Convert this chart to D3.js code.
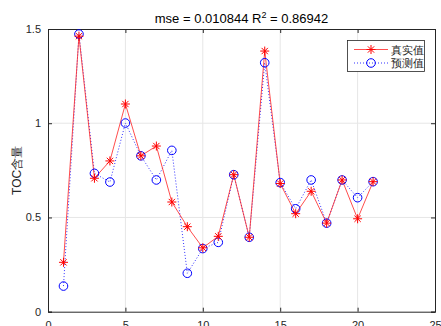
<!DOCTYPE html>
<html><head><meta charset="utf-8">
<script src="https://cdn.jsdelivr.net/npm/d3@7"></script>
<style>body{margin:0;background:#fff}svg{display:block}text{font-family:"Liberation Sans",Arial,sans-serif}</style>
</head><body><svg id="c" width="441" height="326"></svg>
<script>
const samples = [1,2,3,4,5,6,7,8,9,10,11,12,13,14,15,16,17,18,19,20,21];
const actual = [0.262,1.462,0.708,0.800,1.102,0.827,0.879,0.582,0.451,0.339,0.400,0.727,0.395,1.383,0.680,0.520,0.639,0.470,0.699,0.493,0.690];
const predicted = [0.136,1.473,0.734,0.688,1.001,0.827,0.699,0.856,0.204,0.335,0.368,0.727,0.395,1.321,0.685,0.546,0.699,0.470,0.699,0.605,0.690];
const xTicks = [0,5,10,15,20,25];
const yTicks = [0,0.5,1,1.5];
const seriesNames = ["真实值","预测值"];
const titleText = "mse = 0.010844 R";
const titleTail = " = 0.86942";
const yLabel = "TOC含量";

const svg = d3.select("#c");
const L=48,R=435,T=29,B=311.7;
const x = d3.scaleLinear().domain([0,25]).range([L,R]);
const y = d3.scaleLinear().domain([0,1.5]).range([B,T]);
const g = svg.append("g");
// grid
g.selectAll(".gx").data(xTicks.slice(1,-1)).enter().append("line")
 .attr("x1",d=>x(d)).attr("x2",d=>x(d)).attr("y1",T).attr("y2",B).attr("stroke","#e6e6e6").attr("stroke-width",1);
g.selectAll(".gy").data(yTicks.slice(1,-1)).enter().append("line")
 .attr("y1",d=>y(d)).attr("y2",d=>y(d)).attr("x1",L).attr("x2",R).attr("stroke","#e6e6e6").attr("stroke-width",1);
// axes
const ax = d3.axisBottom(x).tickValues(xTicks).tickSize(-4).tickPadding(10).tickFormat(d3.format("d"));
const ay = d3.axisLeft(y).tickValues(yTicks).tickSize(-4).tickPadding(7).tickFormat(d=>String(d));
const axT = d3.axisTop(x).tickValues(xTicks).tickSize(-4).tickFormat("");
const ayR = d3.axisRight(y).tickValues(yTicks).tickSize(-4).tickFormat("");
function style(sel){sel.select(".domain").attr("stroke","#262626");sel.selectAll(".tick line").attr("stroke","#262626");sel.selectAll("text").attr("fill","#262626").attr("font-size","11px").attr("font-family","Liberation Sans, Arial, sans-serif");}
svg.append("g").attr("transform",`translate(0,${B})`).call(ax).call(style);
svg.append("g").attr("transform",`translate(${L},0)`).call(ay).call(style);
svg.append("g").attr("transform",`translate(0,${T})`).call(axT).call(style);
svg.append("g").attr("transform",`translate(${R},0)`).call(ayR).call(style);

const line = d3.line().x((d,i)=>x(samples[i])).y(d=>y(d));
// predicted dotted
svg.append("path").datum(predicted).attr("d",line).attr("fill","none").attr("stroke","#3333ff").attr("stroke-width",1).attr("stroke-dasharray","1,2");
svg.append("path").datum(actual).attr("d",line).attr("fill","none").attr("stroke","#ff2020").attr("stroke-width",0.8);
function star(sel,cx,cy,r){
  const gg=sel.append("g").attr("transform",`translate(${cx},${cy})`);
  [[ -r,0,r,0],[0,-r,0,r],[-r*0.7,-r*0.7,r*0.7,r*0.7],[-r*0.7,r*0.7,r*0.7,-r*0.7]].forEach(a=>gg.append("line").attr("x1",a[0]).attr("y1",a[1]).attr("x2",a[2]).attr("y2",a[3]).attr("stroke","#ff0000").attr("stroke-width",1));
}
const circ = svg.append("g");
circ.selectAll("circle").data(predicted).enter().append("circle").attr("cx",(d,i)=>x(samples[i])).attr("cy",d=>y(d)).attr("r",4.3).attr("fill","none").attr("stroke","#0000ff").attr("stroke-width",1);
const st = svg.append("g");
actual.forEach((d,i)=>star(st,x(samples[i]),y(d),4.5));

// title
const tt = svg.append("text").attr("x",(L+R)/2).attr("y",23).attr("text-anchor","middle").attr("font-size","13px").attr("fill","#000");
tt.append("tspan").text(titleText);
tt.append("tspan").attr("dy",-5).attr("font-size","9px").text("2");
tt.append("tspan").attr("dy",5).text(titleTail);
// y label
svg.append("text").attr("transform",`translate(21,${(T+B)/2}) rotate(-90)`).attr("text-anchor","middle").attr("font-size","12px").attr("fill","#262626").text(yLabel);

// legend
const lg = svg.append("g");
lg.append("rect").attr("x",347.5).attr("y",40.5).attr("width",77).attr("height",31).attr("fill","#fff").attr("stroke","#262626").attr("stroke-width",0.8);
lg.append("line").attr("x1",354).attr("x2",388).attr("y1",49.5).attr("y2",49.5).attr("stroke","#ff2020").attr("stroke-width",0.8);
star(lg,371,49.5,4.5);
lg.append("line").attr("x1",354).attr("x2",388).attr("y1",63).attr("y2",63).attr("stroke","#3333ff").attr("stroke-width",1).attr("stroke-dasharray","1,2");
lg.append("circle").attr("cx",371).attr("cy",63).attr("r",4.3).attr("fill","none").attr("stroke","#0000ff");
lg.selectAll(".lt").data(seriesNames).enter().append("text").attr("x",391).attr("y",(d,i)=>i?67:53.5).attr("font-size","11px").attr("fill","#262626").attr("font-family","Noto Sans CJK SC, sans-serif").text(d=>d);
</script></body></html>
